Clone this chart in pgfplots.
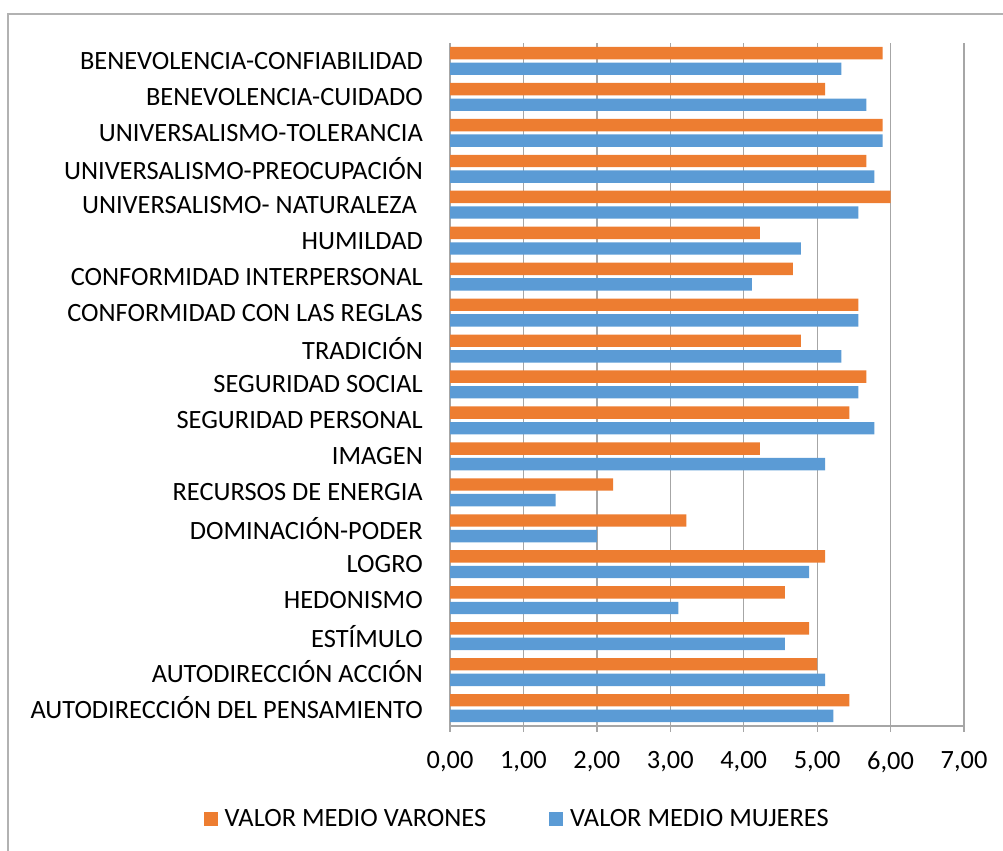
\documentclass[border=0pt]{standalone}
\usepackage{pgfplots}
\pgfplotsset{compat=1.18}
\usepackage{fontspec}
\setmainfont{Carlito}
\definecolor{varon}{HTML}{ED7D31}
\definecolor{mujer}{HTML}{5B9BD5}
\definecolor{gridc}{RGB}{166,166,166}
\definecolor{framec}{RGB}{178,178,178}
\newcommand{\lbl}{\fontsize{26.4bp}{31bp}\selectfont}
\begin{document}
\begin{tikzpicture}[x=1bp,y=1bp]
\useasboundingbox (0,0) rectangle (1003,851);
\draw[framec, line width=1.5bp] (8,0) -- (8,837) -- (1010,837);
\begin{axis}[
  at={(450bp,125bp)}, anchor=south west,
  width=514bp, height=683bp, scale only axis,
  xbar,
  xmin=0, xmax=7, ymin=-0.5, ymax=18.5,
  axis x line*=bottom, axis y line*=left,
  axis line style={draw=gridc, line width=1.3bp},
  xmajorgrids, grid style={draw=gridc, line width=1.3bp},
  xtick={0,1,2,3,4,5,6,7},
  xticklabels={{0,00},{1,00},{2,00},{3,00},{4,00},{5,00},{6,00},{7,00}},
  xtick align=outside, major tick length=6bp,
  xtick style={draw=gridc, line width=1.3bp},
  ytick={0,...,18},
  ytick style={draw=none},
  ytick align=inside,
  yticklabels={
    {AUTODIRECCIÓN DEL PENSAMIENTO},
    {AUTODIRECCIÓN ACCIÓN},
    {ESTÍMULO},
    {HEDONISMO},
    {LOGRO},
    {DOMINACIÓN-PODER},
    {RECURSOS DE ENERGIA},
    {IMAGEN},
    {SEGURIDAD PERSONAL},
    {SEGURIDAD SOCIAL},
    {TRADICIÓN},
    {CONFORMIDAD CON LAS REGLAS},
    {CONFORMIDAD INTERPERSONAL},
    {HUMILDAD},
    {UNIVERSALISMO- NATURALEZA\hspace*{6bp}},
    {UNIVERSALISMO-PREOCUPACIÓN},
    {UNIVERSALISMO-TOLERANCIA},
    {BENEVOLENCIA-CUIDADO},
    {BENEVOLENCIA-CONFIABILIDAD}},
  yticklabel style={font=\lbl, anchor=east, inner sep=0pt, xshift=-27bp},
  xticklabel style={font=\lbl, anchor=center, inner sep=0pt, yshift=-30bp},
  legend style={at={(-0.4795,-0.1362)}, anchor=west, draw=none, fill=none,
    legend columns=2, inner sep=0pt, font=\lbl,
    /tikz/every even column/.append style={column sep=61bp}},
  legend image code/.code={\fill[#1] (0bp,-7bp) rectangle (14bp,7bp); \path (19bp,0bp);},
  legend cell align=left,
]
\addplot[xbar, fill=varon, draw=none, bar width=12.4bp, bar shift=7.8bp] coordinates {
(5.44,0) (5.00,1) (4.89,2) (4.56,3) (5.11,4) (3.22,5) (2.22,6) (4.22,7)
(5.44,8) (5.67,9) (4.78,10) (5.56,11) (4.67,12) (4.22,13) (6.00,14)
(5.67,15) (5.89,16) (5.11,17) (5.89,18)};
\addlegendentry{VALOR MEDIO VARONES}
\addplot[xbar, fill=mujer, draw=none, bar width=12.4bp, bar shift=-7.8bp] coordinates {
(5.22,0) (5.11,1) (4.56,2) (3.11,3) (4.89,4) (2.00,5) (1.44,6) (5.11,7)
(5.78,8) (5.56,9) (5.33,10) (5.56,11) (4.11,12) (4.78,13) (5.56,14)
(5.78,15) (5.89,16) (5.67,17) (5.33,18)};
\addlegendentry{VALOR MEDIO MUJERES}
\end{axis}
\end{tikzpicture}
\end{document}
